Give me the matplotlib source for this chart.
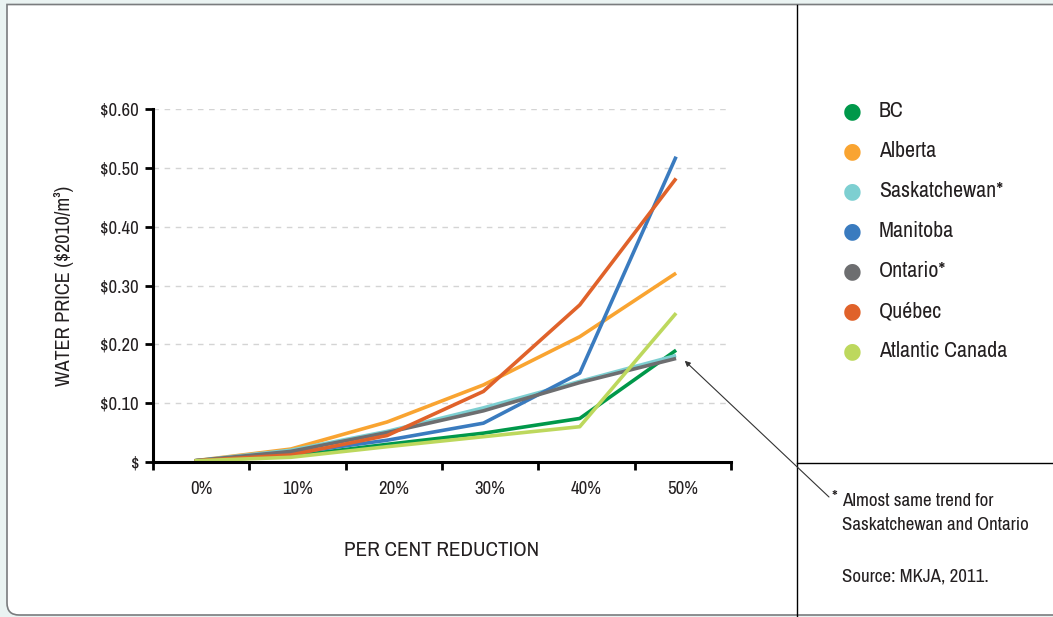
import numpy as np
import matplotlib.pyplot as plt
from matplotlib import font_manager
from matplotlib.path import Path
from matplotlib.patches import PathPatch
from matplotlib.lines import Line2D

names = sorted({f.name for f in font_manager.fontManager.ttflist})
narrow = [n for n in names if 'Narrow' in n or 'Condensed' in n]
plt.rcParams['font.family'] = narrow[:1] + ['Liberation Sans', 'DejaVu Sans']

categories = ['0%', '10%', '20%', '30%', '40%', '50%']
bc = [0.002, 0.010, 0.030, 0.049, 0.074, 0.190]
alberta = [0.002, 0.022, 0.068, 0.131, 0.213, 0.321]
saskatchewan = [0.002, 0.020, 0.052, 0.092, 0.137, 0.181]
manitoba = [0.002, 0.015, 0.037, 0.066, 0.151, 0.519]
ontario = [0.002, 0.018, 0.050, 0.087, 0.135, 0.176]
quebec = [0.002, 0.012, 0.045, 0.120, 0.267, 0.482]
atlantic = [0.002, 0.008, 0.026, 0.043, 0.060, 0.253]
y_ticks = [0, 0.1, 0.2, 0.3, 0.4, 0.5, 0.6]
y_ticklabels = ['$', '$0.10', '$0.20', '$0.30', '$0.40', '$0.50', '$0.60']

series = [
    ('BC', bc, '#00984a'),
    ('Alberta', alberta, '#f9a431'),
    ('Saskatchewan*', saskatchewan, '#7dcfd1'),
    ('Manitoba', manitoba, '#3a7bbf'),
    ('Ontario*', ontario, '#6d6e70'),
    ('Québec', quebec, '#e0622a'),
    ('Atlantic Canada', atlantic, '#bdd85d'),
]

W, H = 1053, 617
fig = plt.figure(figsize=(W / 100, H / 100), dpi=100, facecolor='#eaf3f2')

def fx(px):
    return px / W
def fy(py):
    return 1 - py / H

# white panel with rounded bottom-left corner
r = 12
verts = [(fx(1070), fy(4.5)), (fx(7), fy(4.5)), (fx(7), fy(615 - r)),
         (fx(7), fy(615)), (fx(7 + r), fy(615)), (fx(1070), fy(615)),
         (fx(1070), fy(4.5))]
codes = [Path.MOVETO, Path.LINETO, Path.LINETO, Path.CURVE3, Path.CURVE3,
         Path.LINETO, Path.CLOSEPOLY]
fig.patches.append(PathPatch(Path(verts, codes), transform=fig.transFigure,
                             facecolor='white', edgecolor='#7a7c7e', lw=1.2,
                             zorder=-5))

# divider lines
fig.add_artist(Line2D([fx(797), fx(797)], [fy(4.5), 0], color='black', lw=1,
                      transform=fig.transFigure))
fig.add_artist(Line2D([fx(797), 1], [fy(463), fy(463)], color='black', lw=1,
                      transform=fig.transFigure))

ax = fig.add_axes([fx(153), fy(462), fx(731) - fx(153), fy(109) - fy(462)])
ax.set_zorder(2)
ax.set_facecolor('none')
x = np.arange(len(categories))
for name, vals, col in series:
    ax.plot(x - 0.07, vals, color=col, lw=2.6, solid_capstyle='butt')

ax.set_xlim(-0.5, len(categories) - 0.5)
ax.set_ylim(0, 0.6)
ax.set_xticks(np.arange(-0.5, len(categories), 1.0))
ax.set_xticklabels([])
ax.set_xticks(x, categories, minor=True)
ax.tick_params(axis='x', which='minor', length=0, labelsize=13.5, pad=14,
               labelcolor='#231f20')
ax.tick_params(axis='x', which='major', length=6, width=2, direction='out')
ax.set_yticks(y_ticks, y_ticklabels)
ax.tick_params(axis='y', length=6, width=2, labelsize=13.5, pad=4,
               labelcolor='#231f20')
for v in y_ticks[1:]:
    ax.axhline(v, color='#d4d4d4', lw=1, ls=(0, (4, 4)), zorder=0)
for s in ['top', 'right']:
    ax.spines[s].set_visible(False)
for s in ['left', 'bottom']:
    ax.spines[s].set_linewidth(2.2)

ax.set_xlabel('PER CENT REDUCTION', fontsize=15.2, labelpad=31, color='#231f20')
ax.set_ylabel('WATER PRICE ($2010/m³)', fontsize=14.5, labelpad=19, color='#231f20')

ax.annotate('', xy=(x[5] + 0.02, ontario[5] - 0.004), xycoords='data',
            xytext=(fx(829), fy(497)), textcoords='figure fraction',
            arrowprops=dict(arrowstyle='-|>', color='#333333', lw=0.8,
                            mutation_scale=8, shrinkA=0, shrinkB=0))

# legend
for i, (name, vals, col) in enumerate(series):
    yy = fy(111 + 40 * i)
    fig.text(fx(852), yy, '\u25CF', color=col, fontsize=15.5, ha='center',
             va='center', family='DejaVu Sans')
    fig.text(fx(879), yy, name, fontsize=15.8, va='center', color='#231f20')

fig.text(fx(832), fy(498), '*', fontsize=13, va='center', color='#231f20')
fig.text(fx(842), fy(501), 'Almost same trend for', fontsize=13.6, va='center', color='#231f20')
fig.text(fx(842), fy(525), 'Saskatchewan and Ontario', fontsize=13.6, va='center', color='#231f20')
fig.text(fx(842), fy(577), 'Source: MKJA, 2011.', fontsize=13.6, va='center', color='#231f20')

fig.savefig('out.png', dpi=100, facecolor=fig.get_facecolor())
